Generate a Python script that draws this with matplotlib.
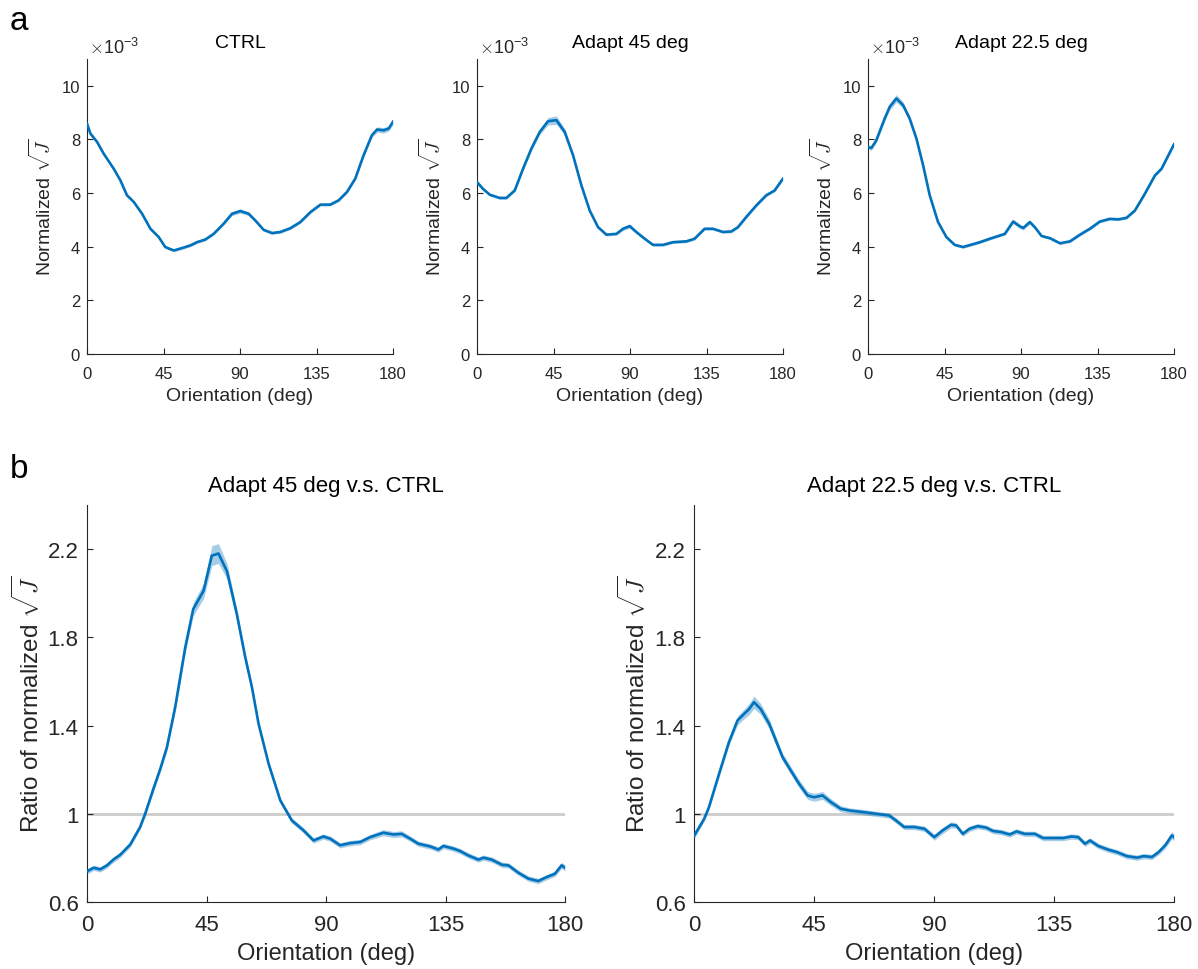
import numpy as np
import matplotlib
matplotlib.use("Agg")
import matplotlib.pyplot as plt

plt.rcParams['font.family'] = ['Liberation Sans', 'DejaVu Sans']
plt.rcParams['mathtext.fontset'] = 'cm'

# ---------------- data (panel a, values in units of 1e-3) ----------------
ctrl_deg = [0, 2, 5.9, 9.8, 15.7, 19.6, 23.5, 27.5, 32.4, 37.3, 42.2, 46, 51, 55.9,
            60.8, 64.7, 69.6, 74.5, 80.4, 85.3, 90.2, 95.1, 99, 103.9, 108.8, 113.7,
            119.6, 125.5, 131.4, 137.3, 143.1, 148, 152.9, 157.8, 162.7, 167.6, 170.6,
            174.5, 177.5, 180]
ctrl_val = [8.59, 8.22, 7.91, 7.47, 6.91, 6.48, 5.92, 5.67, 5.23, 4.67, 4.36, 3.99, 3.86, 3.95,
            4.05, 4.17, 4.27, 4.48, 4.86, 5.23, 5.33, 5.23, 4.98, 4.63, 4.51, 4.55,
            4.69, 4.92, 5.29, 5.57, 5.57, 5.73, 6.04, 6.54, 7.41, 8.16, 8.37,
            8.34, 8.41, 8.66]
ctrl_err = [0.10, 0.06, 0.05, 0.05, 0.05, 0.05, 0.05, 0.05, 0.05, 0.05, 0.05, 0.05, 0.05, 0.05,
            0.05, 0.05, 0.05, 0.05, 0.05, 0.07, 0.08, 0.07, 0.05, 0.05, 0.05, 0.05,
            0.05, 0.05, 0.05, 0.05, 0.05, 0.05, 0.05, 0.06, 0.07, 0.08, 0.10,
            0.10, 0.10, 0.10]

a45_deg = [0, 3.5, 7.5, 13.3, 17.3, 22.2, 27.1, 32, 36.9, 41.8, 46.7, 51.6, 56.5, 61.4,
           66.3, 71.2, 76.1, 82, 85.9, 89.8, 93.7, 98.6, 103.5, 109.4, 115.3, 123.1,
           128, 133.9, 138.8, 144.7, 149.6, 153.5, 158.4, 164.3, 170.2, 175.1, 180]
a45_val = [6.41, 6.16, 5.94, 5.82, 5.82, 6.10, 6.91, 7.66, 8.28, 8.68, 8.72, 8.28, 7.41, 6.29,
           5.35, 4.73, 4.45, 4.48, 4.67, 4.77, 4.55, 4.30, 4.07, 4.07, 4.17, 4.20,
           4.30, 4.67, 4.67, 4.55, 4.57, 4.73, 5.11, 5.54, 5.92, 6.10, 6.54]
a45_err = [0.08, 0.05, 0.05, 0.05, 0.05, 0.05, 0.06, 0.08, 0.10, 0.14, 0.16, 0.12, 0.08, 0.06,
           0.05, 0.05, 0.05, 0.05, 0.06, 0.08, 0.06, 0.05, 0.05, 0.05, 0.05, 0.05,
           0.05, 0.05, 0.05, 0.05, 0.05, 0.05, 0.05, 0.05, 0.05, 0.05, 0.06]

a22_deg = [0, 2, 4.9, 9.8, 12.8, 16.7, 20.6, 24.5, 28.5, 32.4, 36.3, 41.2, 46.1, 51,
           55.9, 60.9, 65.8, 71.7, 76.6, 80.5, 85.4, 89.3, 91.3, 95.2, 98.1, 102.1,
           107, 112.9, 118.8, 124.7, 130.5, 136.4, 142.3, 147.2, 152.1, 157, 162.9,
           168.8, 172.7, 176.7, 180]
a22_val = [7.72, 7.68, 7.97, 8.78, 9.22, 9.53, 9.28, 8.78, 8.03, 7.04, 5.92, 4.92, 4.36, 4.07,
           3.99, 4.08, 4.17, 4.30, 4.40, 4.48, 4.94, 4.76, 4.70, 4.92, 4.73, 4.40,
           4.32, 4.13, 4.20, 4.45, 4.67, 4.94, 5.04, 5.02, 5.08, 5.35, 5.98,
           6.66, 6.91, 7.41, 7.82]
a22_err = [0.08, 0.08, 0.08, 0.10, 0.12, 0.14, 0.12, 0.10, 0.08, 0.06, 0.05, 0.05, 0.05, 0.05,
           0.05, 0.05, 0.05, 0.05, 0.05, 0.05, 0.08, 0.08, 0.08, 0.08, 0.06, 0.05,
           0.05, 0.05, 0.05, 0.05, 0.05, 0.05, 0.05, 0.05, 0.05, 0.05, 0.05,
           0.05, 0.05, 0.06, 0.06]

# ---------------- data (panel b, ratios) ----------------
r45_deg = [0, 2.5, 5, 7.5, 10, 12.5, 16.3, 20, 21.9, 25, 27.6, 30.1, 33.2, 37, 40, 43.9,
           47, 49.5, 52.7, 56.4, 59.6, 62.1, 64.6, 68.4, 72.8, 77.1, 81.5, 85.3, 89,
           91.6, 95.3, 99.1, 102.9, 106.6, 111.6, 115.4, 118.5, 121.7, 124.8, 129.2,
           132.3, 134.2, 138, 140.5, 143.6, 147.4, 149.3, 152.4, 156.2, 158.7, 162.4,
           166.2, 169.9, 173.1, 176.2, 178.7, 180]
r45_val = [0.739, 0.755, 0.748, 0.766, 0.793, 0.814, 0.861, 0.94, 1.0, 1.113, 1.204, 1.302,
           1.483, 1.755, 1.928, 2.011, 2.17, 2.18, 2.10, 1.906, 1.709, 1.574, 1.408, 1.226,
           1.06, 0.97, 0.925, 0.879, 0.897, 0.887, 0.857, 0.867, 0.872, 0.894, 0.914,
           0.906, 0.909, 0.887, 0.864, 0.852, 0.838, 0.854, 0.842, 0.831, 0.811, 0.792,
           0.801, 0.792, 0.769, 0.766, 0.733, 0.706, 0.695, 0.713, 0.728, 0.766, 0.755]
r45_err = [0.012, 0.012, 0.012, 0.012, 0.012, 0.012, 0.012, 0.012, 0.012, 0.014, 0.015, 0.016,
           0.02, 0.026, 0.03, 0.035, 0.045, 0.045, 0.035, 0.025, 0.02, 0.016, 0.014, 0.012,
           0.012, 0.012, 0.012, 0.012, 0.012, 0.012, 0.012, 0.012, 0.012, 0.012, 0.014,
           0.014, 0.014, 0.012, 0.012, 0.012, 0.012, 0.012, 0.012, 0.012, 0.012, 0.012,
           0.012, 0.012, 0.012, 0.012, 0.012, 0.012, 0.012, 0.012, 0.012, 0.014, 0.014]

r22_deg = [0, 3.8, 5.6, 9.4, 13.1, 16.3, 18.8, 20.7, 22.5, 25, 28.2, 30.7, 33.2, 36.3,
           39.4, 42.6, 45, 48.2, 51.3, 55, 58.2, 63.2, 68.2, 73.2, 75.7, 78.8, 82.6,
           86.4, 90.1, 93.3, 96.4, 98.3, 100.8, 103.3, 106.4, 109.6, 112.1, 115.2,
           118.4, 120.9, 124, 127.8, 130.9, 134.7, 138.5, 141.6, 144.1, 146.6, 148.5,
           151.6, 155.4, 158.6, 162.3, 166.1, 168.6, 171.7, 174.2, 176.7, 179.2, 180]
r22_val = [0.899, 0.977, 1.03, 1.181, 1.325, 1.423, 1.453, 1.475, 1.506, 1.475, 1.408, 1.332,
           1.257, 1.196, 1.136, 1.083, 1.075, 1.083, 1.053, 1.023, 1.015, 1.008, 1.0, 0.992,
           0.97, 0.94, 0.94, 0.932, 0.894, 0.925, 0.95, 0.947, 0.909, 0.932, 0.944, 0.937,
           0.922, 0.917, 0.906, 0.92, 0.909, 0.909, 0.89, 0.89, 0.89, 0.897, 0.894, 0.864,
           0.879, 0.854, 0.837, 0.826, 0.808, 0.801, 0.808, 0.804, 0.826, 0.857, 0.902, 0.894]
r22_err = [0.012, 0.012, 0.012, 0.014, 0.016, 0.02, 0.022, 0.025, 0.028, 0.025, 0.022, 0.02,
           0.018, 0.018, 0.018, 0.018, 0.018, 0.018, 0.016, 0.014, 0.012, 0.012, 0.012, 0.012,
           0.012, 0.012, 0.012, 0.012, 0.014, 0.014, 0.014, 0.012, 0.012, 0.012, 0.012, 0.012,
           0.012, 0.012, 0.012, 0.012, 0.012, 0.012, 0.012, 0.012, 0.012, 0.012, 0.012, 0.012,
           0.012, 0.012, 0.012, 0.012, 0.012, 0.012, 0.012, 0.012, 0.012, 0.014, 0.016, 0.016]

top_titles = ['CTRL', 'Adapt 45 deg', 'Adapt 22.5 deg']
bottom_titles = ['Adapt 45 deg v.s. CTRL', 'Adapt 22.5 deg v.s. CTRL']
x_ticks = [0, 45, 90, 135, 180]
top_yticks = [0, 2, 4, 6, 8, 10]
bottom_yticks = [0.6, 1, 1.4, 1.8, 2.2]
bottom_yticklabels = ['0.6', '1', '1.4', '1.8', '2.2']

# ---------------- styling ----------------
W, H = 1198, 970
LINE = '#0072BD'
BAND = '#0072BD'
AXC = '#262626'

fig = plt.figure(figsize=(W / 100, H / 100), dpi=100)


def px_axes(left, right, top, bottom):
    return fig.add_axes([left / W, 1 - bottom / H, (right - left) / W, (bottom - top) / H])


def style(ax, tick_fs, xpad, ypad):
    for s in ['top', 'right']:
        ax.spines[s].set_visible(False)
    for s in ['left', 'bottom']:
        ax.spines[s].set_color(AXC)
        ax.spines[s].set_linewidth(0.8)
    ax.tick_params(direction='in', length=4, width=0.8, colors=AXC, labelsize=tick_fs)
    ax.tick_params(axis='x', pad=xpad)
    ax.tick_params(axis='y', pad=ypad)
    ax.set_xlim(0, 180)
    ax.set_xticks(x_ticks)


def draw(ax, deg, val, err):
    d = np.asarray(deg, float)
    v = np.asarray(val, float)
    e = np.asarray(err, float)
    ax.fill_between(d, v - e, v + e, color=BAND, alpha=0.35, lw=0, zorder=2)
    ax.plot(d, v, color=LINE, lw=1.9, zorder=3, solid_joinstyle='round')


top_pos = [(87, 393), (477, 783), (868, 1174)]
top_data = [(ctrl_deg, ctrl_val, ctrl_err), (a45_deg, a45_val, a45_err), (a22_deg, a22_val, a22_err)]
for (l, r), title, (d, v, e) in zip(top_pos, top_titles, top_data):
    ax = px_axes(l, r, 60, 355)
    style(ax, 12, 8.5, 5)
    draw(ax, d, v, e)
    ax.set_ylim(0, 11)
    ax.set_yticks(top_yticks)
    ax.set_title(title, fontsize=14, color='black', pad=8.5)
    ax.set_xlabel('Orientation (deg)', fontsize=14, color=AXC, labelpad=4.5)
    ax.set_ylabel(r'Normalized $\sqrt{J}$', fontsize=14, color=AXC, labelpad=5)
    ax.text(0.005, 1.008, r'$\times\mathregular{10^{-3}}$', transform=ax.transAxes,
            fontsize=13, color=AXC, ha='left', va='bottom')

bot_pos = [(87, 565), (694, 1174)]
bot_data = [(r45_deg, r45_val, r45_err), (r22_deg, r22_val, r22_err)]
for (l, r), title, (d, v, e) in zip(bot_pos, bottom_titles, bot_data):
    ax = px_axes(l, r, 506, 903)
    style(ax, 16, 9, 6)
    ax.plot([0, 180], [1, 1], color='#cccccc', lw=2, zorder=1)
    draw(ax, d, v, e)
    ax.set_ylim(0.6, 2.4)
    ax.set_yticks(bottom_yticks)
    ax.set_yticklabels(bottom_yticklabels)
    ax.set_title(title, fontsize=16, color='black', pad=10)
    ax.set_xlabel('Orientation (deg)', fontsize=17, color=AXC, labelpad=5)
    ax.set_ylabel(r'Ratio of normalized $\sqrt{J}$', fontsize=17.5, color=AXC, labelpad=3)

fig.text(10 / W, 1 - 30 / H, 'a', fontsize=24, color='black', ha='left', va='baseline')
fig.text(10 / W, 1 - 478 / H, 'b', fontsize=24, color='black', ha='left', va='baseline')

fig.savefig('out.png', dpi=100)
